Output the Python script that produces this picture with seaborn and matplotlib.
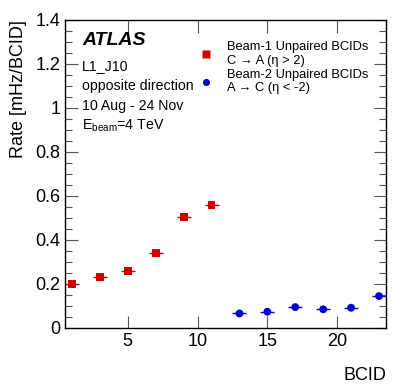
import numpy as np
import pandas as pd
import seaborn as sns
import matplotlib
import matplotlib.pyplot as plt
from matplotlib.ticker import MultipleLocator

matplotlib.use('Agg')

# beam-1 unpaired bunches (C -> A)
beam1_bcid = [1, 3, 5, 7, 9, 11]
beam1_rate = [0.200, 0.230, 0.259, 0.339, 0.506, 0.559]
# beam-2 unpaired bunches (A -> C)
beam2_bcid = [13, 15, 17, 19, 21, 23]
beam2_rate = [0.066, 0.074, 0.095, 0.085, 0.092, 0.145]
bin_halfwidth = 0.5

beam1_label = 'Beam-1 Unpaired BCIDs\nC \u2192 A (\u03b7 > 2)'
beam2_label = 'Beam-2 Unpaired BCIDs\nA \u2192 C (\u03b7 < -2)'
red = '#cc0000'
blue = '#0000cc'

df = pd.DataFrame({
    'bcid': beam1_bcid + beam2_bcid,
    'rate': beam1_rate + beam2_rate,
    'beam': [beam1_label] * len(beam1_bcid) + [beam2_label] * len(beam2_bcid),
})

sns.set_theme(style='ticks')
plt.rcParams['font.family'] = ['Liberation Sans', 'DejaVu Sans']
plt.rcParams['xtick.direction'] = 'in'
plt.rcParams['ytick.direction'] = 'in'
plt.rcParams['text.color'] = 'black'
plt.rcParams['axes.labelcolor'] = 'black'
plt.rcParams['xtick.labelcolor'] = 'black'
plt.rcParams['ytick.labelcolor'] = 'black'

fig = plt.figure(figsize=(4.07, 3.91), dpi=100)
ax = fig.add_axes([65 / 407, 1 - 328 / 391, (386 - 65) / 407, (328 - 20) / 391])

ax.errorbar(beam1_bcid, beam1_rate, xerr=bin_halfwidth, fmt='none', ecolor=red, lw=1, zorder=2)
ax.errorbar(beam2_bcid, beam2_rate, xerr=bin_halfwidth, fmt='none', ecolor=blue, lw=1, zorder=2)
sns.scatterplot(data=df, x='bcid', y='rate', hue='beam', style='beam',
                palette={beam1_label: red, beam2_label: blue},
                markers={beam1_label: 's', beam2_label: 'o'},
                s=32, edgecolor='none', ax=ax, zorder=3, clip_on=True)

ax.set_xlim(0.5, 23.5)
ax.set_ylim(0, 1.4)
ax.xaxis.set_major_locator(MultipleLocator(5))
ax.yaxis.set_minor_locator(MultipleLocator(0.05))
ax.set_yticks([0, 0.2, 0.4, 0.6, 0.8, 1.0, 1.2, 1.4])
ax.set_yticklabels(['0', '0.2', '0.4', '0.6', '0.8', '1', '1.2', '1.4'])
ax.tick_params(which='both', top=True, right=True, labelsize=13, color='#555555')
ax.tick_params(which='major', length=9, width=0.8)
ax.tick_params(which='minor', length=5, width=0.8)
for sp in ax.spines.values():
    sp.set_linewidth(1)
    sp.set_color('black')

ax.set_xlabel('BCID', fontsize=13, loc='right', labelpad=12)
ax.set_ylabel('Rate [mHz/BCID]', fontsize=13, loc='top', labelpad=6)

ax.text(0.054, 0.935, 'ATLAS', transform=ax.transAxes, fontsize=14,
        fontweight='bold', fontstyle='italic', va='center')
info = ['L1_J10', 'opposite direction', '10 Aug - 24 Nov', r'E$_{\mathregular{beam}}$=4 TeV']
for i, line in enumerate(info):
    ax.text(0.054, 0.849 - i * 0.064, line, transform=ax.transAxes, fontsize=10.2, va='center')

ax.legend(loc='upper left', bbox_to_anchor=(0.395, 0.953), frameon=False,
          fontsize=9.3, handletextpad=1.0, labelspacing=0.15, borderpad=0,
          markerscale=0.9, handlelength=1.2)

fig.savefig('out.png', dpi=100)
